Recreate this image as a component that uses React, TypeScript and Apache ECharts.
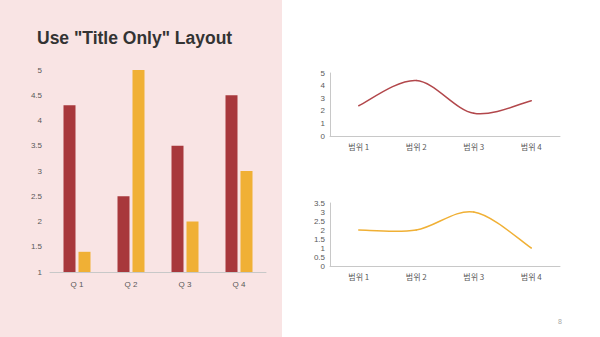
import React, { useEffect, useRef } from "react";
import * as echarts from "echarts";

const quarters = ["Q 1", "Q 2", "Q 3", "Q 4"];
const barRed = [4.3, 2.5, 3.5, 4.5];
const barYellow = [1.4, 5, 2, 3];

const lineCats = ["범위 1", "범위 2", "범위 3", "범위 4"];
const lineTop = [2.4, 4.4, 1.8, 2.8];
const lineBottom = [2, 2, 3, 1];

const RED = "#a8383c";
const YELLOW = "#f0b035";
const AXIS = "#c8c8c8";
const LABEL = "#595959";
const FONT = "'Liberation Sans', Arial, sans-serif";
const KFONT = "'Noto Sans CJK KR', 'Liberation Sans', sans-serif";

// Smooth (Catmull-Rom style) line drawn through the axis scales, one bezier per segment
function smoothSeries(values: number[], xIdx: number, yIdx: number, color: string) {
  return {
    type: "custom",
    xAxisIndex: xIdx,
    yAxisIndex: yIdx,
    data: values.map((v, i) => [i, v]),
    encode: { x: 0, y: 1 },
    renderItem: (params: any, api: any) => {
      const i = params.dataIndex;
      const n = values.length;
      if (i >= n - 1) return { type: "group", children: [] };
      const P = (k: number) => {
        const kk = Math.max(0, Math.min(n - 1, k));
        return api.coord([kk, values[kk]]);
      };
      const p0 = P(i - 1);
      const p1 = P(i);
      const p2 = P(i + 1);
      const p3 = P(i + 2);
      const c1 = [p1[0] + (p2[0] - p0[0]) / 6, p1[1] + (p2[1] - p0[1]) / 6];
      const c2 = [p2[0] - (p3[0] - p1[0]) / 6, p2[1] - (p3[1] - p1[1]) / 6];
      return {
        type: "bezierCurve",
        shape: {
          x1: p1[0],
          y1: p1[1],
          cpx1: c1[0],
          cpy1: c1[1],
          cpx2: c2[0],
          cpy2: c2[1],
          x2: p2[0],
          y2: p2[1],
        },
        style: { stroke: color, lineWidth: 1.5, fill: "none", lineCap: "round" },
      };
    },
  };
}

export default function App() {
  const ref = useRef<HTMLDivElement>(null);
  useEffect(() => {
    if (!ref.current) return;
    const chart = echarts.init(ref.current, undefined, { renderer: "svg" });
    const yLabel = { color: LABEL, fontSize: 8, fontFamily: FONT, margin: 8 };
    chart.setOption({
      animation: false,
      backgroundColor: "#ffffff",
      graphic: [
        {
          type: "rect",
          z: -10,
          shape: { x: 0, y: 0, width: 282, height: 337 },
          style: { fill: "#f9e4e4" },
          silent: true,
        },
        {
          type: "text",
          x: 37,
          y: 38,
          style: {
            text: 'Use "Title Only" Layout',
            fill: "#333333",
            font: `bold 17.5px ${FONT}`,
            textVerticalAlign: "middle",
          },
        },
        {
          type: "text",
          x: 560,
          y: 321,
          style: {
            text: "8",
            fill: "#a6a6a6",
            font: `7px ${FONT}`,
            textAlign: "center",
            textVerticalAlign: "middle",
          },
        },
      ],
      grid: [
        { left: 50, right: 334, top: 70, bottom: 65 },
        { left: 330, right: 40, top: 73, bottom: 201 },
        { left: 330, right: 40, top: 203, bottom: 71 },
      ],
      xAxis: [
        {
          gridIndex: 0,
          type: "category",
          data: quarters,
          axisLine: { lineStyle: { color: AXIS } },
          axisTick: { show: false },
          axisLabel: { color: LABEL, fontSize: 8, fontFamily: FONT, margin: 8 },
        },
        {
          gridIndex: 1,
          type: "category",
          data: lineCats,
          axisLine: { lineStyle: { color: AXIS } },
          axisTick: { show: false },
          axisLabel: { color: LABEL, fontSize: 8, fontFamily: KFONT, margin: 6 },
        },
        {
          gridIndex: 2,
          type: "category",
          data: lineCats,
          axisLine: { lineStyle: { color: AXIS } },
          axisTick: { show: false },
          axisLabel: { color: LABEL, fontSize: 8, fontFamily: KFONT, margin: 6 },
        },
      ],
      yAxis: [
        {
          gridIndex: 0,
          type: "value",
          min: 1,
          max: 5,
          interval: 0.5,
          splitLine: { show: false },
          axisLine: { show: false },
          axisTick: { show: false },
          axisLabel: yLabel,
        },
        {
          gridIndex: 1,
          type: "value",
          min: 0,
          max: 5,
          interval: 1,
          splitLine: { show: false },
          axisLine: { show: true, lineStyle: { color: AXIS } },
          axisTick: { show: false },
          axisLabel: { ...yLabel, margin: 5 },
        },
        {
          gridIndex: 2,
          type: "value",
          min: 0,
          max: 3.5,
          interval: 0.5,
          splitLine: { show: false },
          axisLine: { show: true, lineStyle: { color: AXIS } },
          axisTick: { show: false },
          axisLabel: { ...yLabel, margin: 5 },
        },
      ],
      series: [
        {
          type: "bar",
          xAxisIndex: 0,
          yAxisIndex: 0,
          data: barRed,
          barWidth: 12,
          barGap: "25%",
          itemStyle: { color: RED },
        },
        {
          type: "bar",
          xAxisIndex: 0,
          yAxisIndex: 0,
          data: barYellow,
          barWidth: 12,
          barGap: "25%",
          itemStyle: { color: YELLOW },
        },
        smoothSeries(lineTop, 1, 1, "#b2474b"),
        smoothSeries(lineBottom, 2, 2, YELLOW),
      ],
    });
    return () => chart.dispose();
  }, []);
  return (
    <div
      ref={ref}
      style={{ position: "fixed", left: 0, top: 0, width: 600, height: 337 }}
    />
  );
}
